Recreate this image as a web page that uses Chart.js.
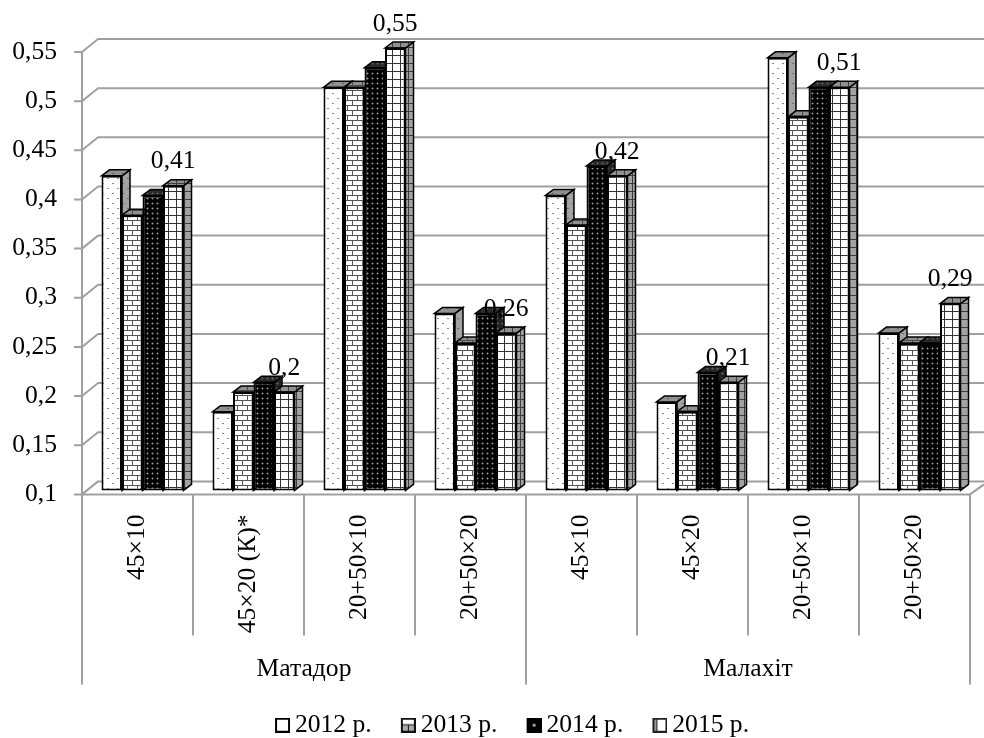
<!DOCTYPE html>
<html>
<head>
<meta charset="utf-8">
<style>html,body{margin:0;padding:0;background:#fff}canvas{display:block}</style>
<script src="https://cdn.jsdelivr.net/npm/chart.js@4/dist/chart.umd.min.js"></script>
</head>
<body>
<canvas id="c" width="984" height="738"></canvas>
<script>
const categories = ['45×10','45×20 (К)*','20+50×10','20+50×20','45×10','45×20','20+50×10','20+50×20'];
const groups = ['Матадор','Малахіт'];
const seriesNames = ['2012 р.','2013 р.','2014 р.','2015 р.'];
const values2012 = [0.42,0.18,0.51,0.28,0.40,0.19,0.54,0.26];
const values2013 = [0.38,0.20,0.51,0.25,0.37,0.18,0.48,0.25];
const values2014 = [0.40,0.21,0.53,0.28,0.43,0.22,0.51,0.25];
const values2015 = [0.41,0.20,0.55,0.26,0.42,0.21,0.51,0.29];
const labelledSeries = 3;
const axisMin = 0.1;
const axisMax = 0.55;

const FONT = "'Liberation Serif'";
const FS = 25.6;
const GRID = '#a0a0a0';
const WALL = {dx:16, dy:13};
const BAR_SHIFT = {x:5, y:-4};
const BAR_DEPTH = {dx:8, dy:6};

function tile(w,h,draw){const c=document.createElement('canvas');c.width=w;c.height=h;draw(c.getContext('2d'));return c;}
const tiles = [
  tile(10,10,g=>{g.fillStyle='#fff';g.fillRect(0,0,10,10);g.fillStyle='#8a8a8a';g.fillRect(2,2,2,1);g.fillRect(7,7,2,1);}),
  tile(10,10,g=>{g.fillStyle='#fff';g.fillRect(0,0,10,10);g.fillStyle='#555';g.fillRect(0,4,10,1);g.fillRect(0,9,10,1);g.fillRect(2,0,1,4);g.fillRect(7,5,1,4);}),
  tile(5,5,g=>{g.fillStyle='#000';g.fillRect(0,0,5,5);g.fillStyle='#9a9a9a';g.fillRect(2,2,1,1);g.fillStyle='#444';g.fillRect(1,2,1,1);g.fillRect(3,2,1,1);g.fillRect(2,1,1,1);g.fillRect(2,3,1,1);}),
  tile(8,8,g=>{g.fillStyle='#fff';g.fillRect(0,0,8,8);g.fillStyle='#333';g.fillRect(3,0,1,8);g.fillRect(0,3,8,1);})
];
const ctx0 = document.getElementById('c').getContext('2d');
const patterns = tiles.map(t=>ctx0.createPattern(t,'repeat'));

function swatch(draw){return tile(23,15,g=>{g.translate(8,0);draw(g);});}
const swatches = [
  swatch(g=>{g.fillStyle='#fff';g.fillRect(0,0,15,15);g.strokeStyle='#000';g.lineWidth=2;g.strokeRect(1,1,13,13);}),
  swatch(g=>{g.fillStyle='#fff';g.fillRect(0,0,15,15);g.fillStyle='#aaa';g.fillRect(1,7,13,6);g.strokeStyle='#111';g.lineWidth=2;g.strokeRect(1,1,13,13);g.beginPath();g.moveTo(1,7);g.lineTo(14,7);g.moveTo(7.5,7);g.lineTo(7.5,14);g.lineWidth=1;g.stroke();}),
  swatch(g=>{g.fillStyle='#000';g.fillRect(0,0,15,15);g.fillStyle='#888';g.fillRect(6,6,3,3);g.fillStyle='#eee';g.fillRect(7,7,1,1);}),
  swatch(g=>{g.fillStyle='#fff';g.fillRect(0,0,15,15);g.fillStyle='#999';g.fillRect(2,2,3,11);g.strokeStyle='#222';g.lineWidth=2;g.strokeRect(1,1,13,13);g.lineWidth=1;g.beginPath();g.moveTo(4.5,1);g.lineTo(4.5,14);g.stroke();})
];

const seriesValues = [values2012,values2013,values2014,values2015];
const datasets = seriesNames.map((name,i)=>({
  label:name, data:seriesValues[i], backgroundColor:patterns[i],
  borderColor:'#000', borderWidth:2, borderSkipped:false, base:axisMin,
  categoryPercentage:0.739, barPercentage:1
}));

function line(ctx,pts,color,w){ctx.save();ctx.strokeStyle=color;ctx.lineWidth=w;ctx.lineJoin='round';ctx.beginPath();pts.forEach((p,i)=>i?ctx.lineTo(p[0],p[1]):ctx.moveTo(p[0],p[1]));ctx.stroke();ctx.restore();}

const plugin3d = {
  id:'plugin3d',
  afterLayout(chart){chart.legend.left-=14;chart.legend.right-=14;chart.legend.top-=1;},
  beforeDatasetDraw(){return false;},
  beforeDatasetsDraw(chart){
    const {ctx,scales:{x,y,x2},chartArea:a} = chart;
    y.ticks.forEach(t=>{
      const py=y.getPixelForValue(t.value);
      line(ctx,[[a.left-8,py],[a.left,py],[a.left+WALL.dx,py-WALL.dy],[chart.width,py-WALL.dy]],GRID,2);
    });
    line(ctx,[[a.left,a.bottom],[a.right,a.bottom]],GRID,2);
    line(ctx,[[a.right,a.bottom],[chart.width,a.bottom-10]],GRID,2);
    line(ctx,[[a.left,a.top],[a.left,a.bottom]],GRID,2);
    const step=(a.right-a.left)/categories.length;
    for(let i=0;i<=categories.length;i++){
      const px=a.left+i*step;
      const outer=(i%4===0);
      line(ctx,[[px,a.bottom],[px,outer?x2.bottom:x.bottom]],GRID,2);
    }
    ctx.save();
    ctx.translate(BAR_SHIFT.x,BAR_SHIFT.y);
    datasets.forEach((d,i)=>{
      const meta=chart.getDatasetMeta(i);
      meta.data.forEach(bar=>{
        const {x:bx,y:by,base,width}=bar.getProps(['x','y','base','width']);
        const l=bx-width/2,r=bx+width/2;
        ctx.beginPath();
        ctx.moveTo(r,by);ctx.lineTo(r+BAR_DEPTH.dx,by-BAR_DEPTH.dy);ctx.lineTo(r+BAR_DEPTH.dx,base-BAR_DEPTH.dy);ctx.lineTo(r,base);ctx.closePath();
        ctx.fillStyle=patterns[i];ctx.fill();
        ctx.fillStyle='rgba(70,70,70,0.5)';ctx.fill();
        ctx.strokeStyle='#000';ctx.lineWidth=1.5;ctx.stroke();
        ctx.beginPath();
        ctx.moveTo(l,by);ctx.lineTo(l+BAR_DEPTH.dx,by-BAR_DEPTH.dy);ctx.lineTo(r+BAR_DEPTH.dx,by-BAR_DEPTH.dy);ctx.lineTo(r,by);ctx.closePath();
        ctx.fillStyle=patterns[i];ctx.fill();
        ctx.fillStyle='rgba(70,70,70,0.6)';ctx.fill();
        ctx.stroke();
      });
      meta.controller.draw();
    });
    ctx.restore();
    const meta=chart.getDatasetMeta(labelledSeries);
    ctx.save();
    ctx.fillStyle='#000';ctx.font=FS+'px '+FONT;ctx.textAlign='center';ctx.textBaseline='middle';
    meta.data.forEach((bar,i)=>{
      const txt=String(seriesValues[labelledSeries][i]).replace('.',',');
      ctx.fillText(txt,bar.x+BAR_SHIFT.x,bar.y+BAR_SHIFT.y-24);
    });
    ctx.restore();
  }
};

new Chart(document.getElementById('c'),{
  type:'bar',
  data:{labels:categories,datasets},
  options:{
    responsive:false,animation:false,
    font:{family:FONT,size:FS},
    layout:{padding:{left:0,right:14,top:52,bottom:-11}},
    scales:{
      x:{
        type:'category',position:'bottom',weight:0,
        grid:{display:false,drawTicks:false},border:{display:false},
        ticks:{color:'#000',font:{family:FONT,size:FS},minRotation:90,maxRotation:90,autoSkip:false,padding:20},
        afterFit(s){s.height=141;}
      },
      x2:{
        type:'category',position:'bottom',weight:1,labels:groups,offset:true,
        grid:{display:false,drawTicks:false},border:{display:false},
        ticks:{color:'#000',font:{family:FONT,size:FS},maxRotation:0,minRotation:0,autoSkip:false,padding:19},
        afterFit(s){s.height=49;}
      },
      y:{
        type:'linear',min:axisMin,max:axisMax,
        grid:{display:false,drawTicks:false},border:{display:false},
        ticks:{color:'#000',font:{family:FONT,size:FS},stepSize:0.05,padding:25,autoSkip:false,
          callback:v=>String(+v.toFixed(2)).replace('.',',')},
        afterFit(s){s.width=82;}
      }
    },
    plugins:{
      tooltip:{enabled:false},
      legend:{
        display:true,position:'bottom',fullSize:false,
        labels:{
          color:'#000',font:{family:FONT,size:FS},usePointStyle:true,pointStyleWidth:7.2,padding:29,
          generateLabels(chart){
            const items=Chart.defaults.plugins.legend.labels.generateLabels(chart);
            items.forEach((it,i)=>{it.pointStyle=swatches[i];});
            return items;
          }
        }
      }
    }
  },
  plugins:[plugin3d]
});
</script>
</body>
</html>
